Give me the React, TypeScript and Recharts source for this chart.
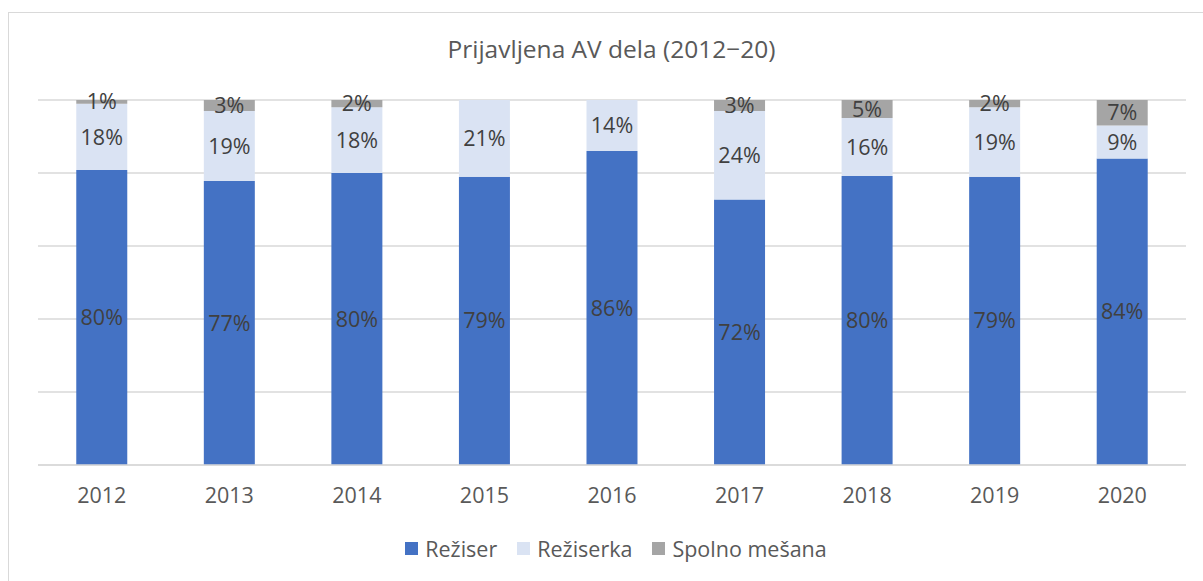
import { BarChart, Bar, XAxis, YAxis, CartesianGrid, Legend, LabelList } from "recharts"

const years = ["2012", "2013", "2014", "2015", "2016", "2017", "2018", "2019", "2020"]
const reziser = [80, 77, 80, 79, 86, 72, 80, 79, 84]
const reziserka = [18, 19, 18, 21, 14, 24, 16, 19, 9]
const mesana = [1, 3, 2, 0, 0, 3, 5, 2, 7]
const yTicks = [0, 0.2, 0.4, 0.6, 0.8, 1]

const series = [
  { key: "reziser", name: "Režiser", color: "#4472C4" },
  { key: "reziserka", name: "Režiserka", color: "#DAE3F3" },
  { key: "mesana", name: "Spolno mešana", color: "#A5A5A5" },
]

const data = years.map((y, i) => ({
  year: y,
  reziser: reziser[i],
  reziserka: reziserka[i],
  mesana: mesana[i],
}))

const FONT = "'Open Sans', 'Noto Sans', sans-serif"
const FS = 21.5

const pct = (v: unknown) => (v ? `${v}%` : "")

function ExcelLegend() {
  return (
    <div style={{ display: "flex", justifyContent: "center", alignItems: "center", fontFamily: FONT, fontSize: FS, color: "#595959" }}>
      {series.map((s) => (
        <span key={s.key} style={{ display: "inline-flex", alignItems: "center", margin: "0 10px" }}>
          <span style={{ width: 13, height: 13, background: s.color, display: "inline-block", marginRight: 7 }} />
          {s.name}
        </span>
      ))}
    </div>
  )
}

export default function App() {
  return (
    <div style={{ position: "absolute", left: 0, top: 0, width: 1203, height: 581, overflow: "hidden", background: "#fff" }}>
      <div
        style={{
          position: "absolute",
          left: 8,
          top: 12,
          width: 1220,
          height: 600,
          border: "1px solid #D9D9D9",
        }}
      />
      <div
        style={{
          position: "absolute",
          left: 0,
          top: 32,
          width: 1223,
          textAlign: "center",
          fontFamily: FONT,
          fontSize: 24.5,
          color: "#595959",
        }}
      >
        Prijavljena AV dela (2012−20)
      </div>
      <div style={{ position: "absolute", left: 0, top: 0 }}>
        <BarChart
          width={1203}
          height={581}
          data={data}
          stackOffset="expand"
          barCategoryGap="30%"
          margin={{ top: 100, right: 17, bottom: 47, left: 38 }}
        >
          <CartesianGrid vertical={false} stroke="#D9D9D9" strokeWidth={1.5} />
          <YAxis
            width={0}
            domain={[0, 1]}
            ticks={yTicks}
            tick={() => <g />}
            axisLine={false}
            tickLine={false}
          />
          <XAxis
            dataKey="year"
            height={40}
            tickLine={false}
            axisLine={{ stroke: "#D9D9D9", strokeWidth: 1.5 }}
            tick={{ fill: "#595959", fontSize: FS, fontFamily: FONT }}
            tickMargin={17}
          />
          <Legend
            verticalAlign="bottom"
            content={() => <ExcelLegend />}
            wrapperStyle={{ position: "absolute", left: 0, width: 1232, top: 534 }}
          />
          {series.map((s) => (
            <Bar key={s.key} dataKey={s.key} name={s.name} stackId="a" fill={s.color} isAnimationActive={false}>
              <LabelList
                dataKey={s.key}
                position="center"
                formatter={pct}
                fill="#404040"
                style={{ fontSize: FS, fontFamily: FONT }}
              />
            </Bar>
          ))}
        </BarChart>
      </div>
    </div>
  )
}
